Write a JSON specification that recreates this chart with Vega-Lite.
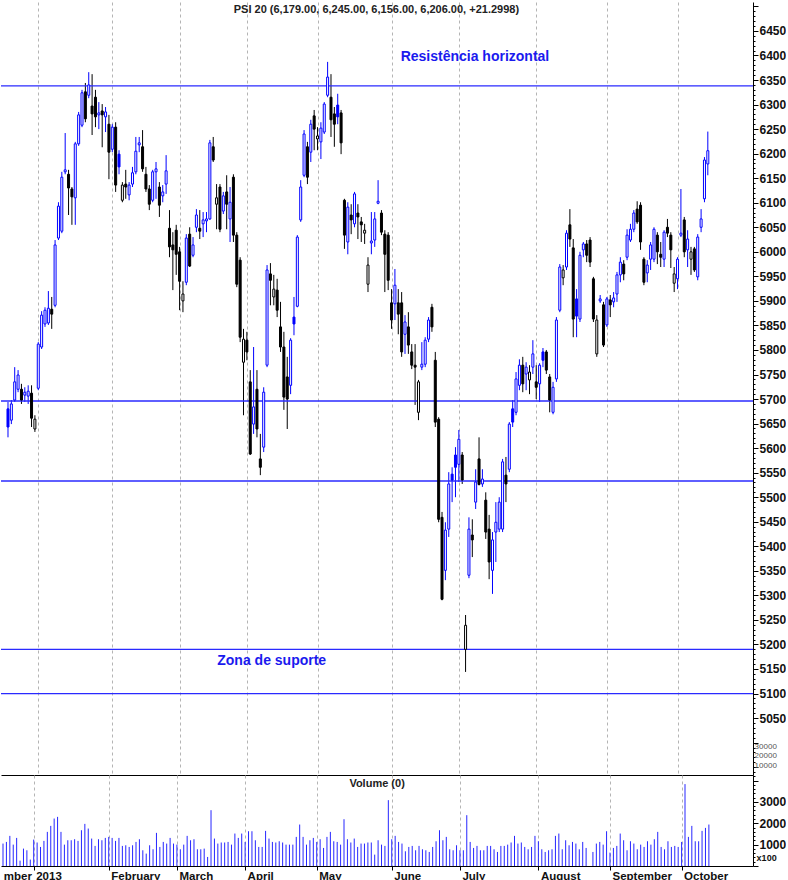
{
  "$schema": "https://vega.github.io/schema/vega-lite/v6.json",
  "padding": 0,
  "spacing": 0,
  "bounds": "flush",
  "background": "#ffffff",
  "config": {
    "view": {"stroke": null},
    "font": "Liberation Sans",
    "axis": {"labelFont": "Liberation Sans", "domainColor": "#000000", "tickColor": "#000000"}
  },
  "resolve": {"scale": {"x": "independent", "y": "independent"}},
  "datasets": {
    "lines": [{"p": 6338}, {"p": 5696}, {"p": 5533}, {"p": 5190}, {"p": 5100}],
    "notes": [{"i": 116.7, "p": 6397, "t": "Resistência horizontal"}, {"i": 62.2, "p": 5166, "t": "Zona de suporte"}],
    "heading": [{"i": 109.5, "p": 6493, "t": "PSI 20 (6,179.00, 6,245.00, 6,156.00, 6,206.00, +21.2998)"}],
    "overlay": [{"i": 221.9, "p": 4992, "t": "30000"}, {"i": 221.9, "p": 4972, "t": "20000"}, {"i": 221.9, "p": 4952, "t": "10000"}],
    "volnote": [{"i": 109.7, "v": 3850, "t": "Volume (0)"}],
    "volunit": [{"i": 221.0, "v": 380, "t": "x100"}],
    "ohlc": [
      {"i":0,"o":5680,"h":5694,"l":5622,"c":5643,"v":1050},
      {"i":1,"o":5657,"h":5698,"l":5649,"c":5690,"v":1127},
      {"i":2,"o":5698,"h":5765,"l":5694,"c":5735,"v":1410},
      {"i":3,"o":5720,"h":5759,"l":5714,"c":5749,"v":1000},
      {"i":4,"o":5720,"h":5731,"l":5690,"c":5698,"v":1315},
      {"i":5,"o":5708,"h":5724,"l":5694,"c":5714,"v":250},
      {"i":6,"o":5706,"h":5728,"l":5690,"c":5716,"v":814},
      {"i":7,"o":5712,"h":5728,"l":5643,"c":5661,"v":736},
      {"i":8,"o":5639,"h":5667,"l":5633,"c":5659,"v":300},
      {"i":9,"o":5722,"h":5816,"l":5718,"c":5812,"v":1237},
      {"i":10,"o":5806,"h":5879,"l":5802,"c":5871,"v":1100},
      {"i":11,"o":5853,"h":5887,"l":5847,"c":5881,"v":892},
      {"i":12,"o":5855,"h":5920,"l":5851,"c":5885,"v":1175},
      {"i":13,"o":5883,"h":5908,"l":5843,"c":5873,"v":1597},
      {"i":14,"o":5891,"h":6024,"l":5887,"c":6014,"v":1878},
      {"i":15,"o":6028,"h":6101,"l":6024,"c":6093,"v":2222},
      {"i":16,"o":6042,"h":6163,"l":6038,"c":6152,"v":2300},
      {"i":17,"o":6163,"h":6242,"l":6158,"c":6167,"v":1597},
      {"i":18,"o":6158,"h":6167,"l":6075,"c":6130,"v":1000},
      {"i":19,"o":6128,"h":6132,"l":6055,"c":6112,"v":1205},
      {"i":20,"o":6110,"h":6224,"l":6055,"c":6220,"v":1205},
      {"i":21,"o":6220,"h":6285,"l":6216,"c":6279,"v":1253},
      {"i":22,"o":6258,"h":6330,"l":6254,"c":6324,"v":1175},
      {"i":23,"o":6326,"h":6344,"l":6264,"c":6271,"v":1675},
      {"i":24,"o":6319,"h":6366,"l":6313,"c":6340,"v":1972},
      {"i":25,"o":6297,"h":6362,"l":6238,"c":6281,"v":1753},
      {"i":26,"o":6315,"h":6330,"l":6254,"c":6275,"v":1284},
      {"i":27,"o":6279,"h":6305,"l":6250,"c":6283,"v":940},
      {"i":28,"o":6287,"h":6301,"l":6213,"c":6279,"v":1253},
      {"i":29,"o":6275,"h":6295,"l":6244,"c":6285,"v":1205},
      {"i":30,"o":6260,"h":6279,"l":6148,"c":6203,"v":1315},
      {"i":31,"o":6209,"h":6260,"l":6203,"c":6254,"v":1362},
      {"i":32,"o":6254,"h":6264,"l":6122,"c":6136,"v":1315},
      {"i":33,"o":6199,"h":6207,"l":6158,"c":6173,"v":1175},
      {"i":34,"o":6105,"h":6142,"l":6101,"c":6136,"v":1315},
      {"i":35,"o":6138,"h":6167,"l":6108,"c":6132,"v":940},
      {"i":36,"o":6116,"h":6142,"l":6105,"c":6136,"v":970},
      {"i":37,"o":6138,"h":6173,"l":6132,"c":6161,"v":892},
      {"i":38,"o":6163,"h":6234,"l":6158,"c":6205,"v":970},
      {"i":39,"o":6218,"h":6234,"l":6203,"c":6222,"v":1127},
      {"i":40,"o":6214,"h":6248,"l":6163,"c":6169,"v":1253},
      {"i":41,"o":6158,"h":6173,"l":6122,"c":6128,"v":736},
      {"i":42,"o":6128,"h":6136,"l":6085,"c":6097,"v":580},
      {"i":43,"o":6105,"h":6167,"l":6101,"c":6163,"v":970},
      {"i":44,"o":6163,"h":6183,"l":6108,"c":6169,"v":783},
      {"i":45,"o":6132,"h":6142,"l":6071,"c":6095,"v":1550},
      {"i":46,"o":6114,"h":6136,"l":6101,"c":6122,"v":892},
      {"i":47,"o":6138,"h":6197,"l":6118,"c":6165,"v":1127},
      {"i":48,"o":6048,"h":6085,"l":5989,"c":6010,"v":1050},
      {"i":49,"o":6014,"h":6040,"l":5922,"c":6004,"v":1315},
      {"i":50,"o":6044,"h":6055,"l":5953,"c":5995,"v":1050},
      {"i":51,"o":6000,"h":6010,"l":5881,"c":5940,"v":1000},
      {"i":52,"o":5900,"h":5940,"l":5877,"c":5914,"v":783},
      {"i":53,"o":5938,"h":6036,"l":5932,"c":6028,"v":1000},
      {"i":54,"o":6036,"h":6050,"l":5969,"c":5971,"v":1410},
      {"i":55,"o":5993,"h":6030,"l":5989,"c":6014,"v":1205},
      {"i":56,"o":6050,"h":6087,"l":6040,"c":6075,"v":1253},
      {"i":57,"o":6048,"h":6085,"l":6026,"c":6042,"v":783},
      {"i":58,"o":6057,"h":6081,"l":6030,"c":6065,"v":783},
      {"i":59,"o":6063,"h":6081,"l":6040,"c":6067,"v":814},
      {"i":60,"o":6067,"h":6228,"l":6065,"c":6222,"v":423},
      {"i":61,"o":6214,"h":6234,"l":6183,"c":6187,"v":2613},
      {"i":62,"o":6097,"h":6138,"l":6046,"c":6110,"v":1284},
      {"i":63,"o":6132,"h":6138,"l":6040,"c":6046,"v":1050},
      {"i":64,"o":6083,"h":6122,"l":6077,"c":6114,"v":1100},
      {"i":65,"o":6122,"h":6156,"l":6046,"c":6097,"v":1100},
      {"i":66,"o":6067,"h":6132,"l":6020,"c":6101,"v":1127},
      {"i":67,"o":6152,"h":6158,"l":6020,"c":6034,"v":1000},
      {"i":68,"o":6034,"h":6040,"l":5928,"c":5934,"v":1519},
      {"i":69,"o":5983,"h":5989,"l":5816,"c":5826,"v":1315},
      {"i":70,"o":5775,"h":5843,"l":5667,"c":5822,"v":1519},
      {"i":71,"o":5820,"h":5837,"l":5779,"c":5796,"v":1127},
      {"i":72,"o":5735,"h":5759,"l":5586,"c":5588,"v":1628},
      {"i":73,"o":5649,"h":5806,"l":5629,"c":5684,"v":1628},
      {"i":74,"o":5720,"h":5759,"l":5622,"c":5639,"v":1205},
      {"i":75,"o":5578,"h":5629,"l":5545,"c":5561,"v":892},
      {"i":76,"o":5602,"h":5724,"l":5592,"c":5714,"v":892},
      {"i":77,"o":5769,"h":5973,"l":5765,"c":5963,"v":1644},
      {"i":78,"o":5955,"h":5977,"l":5891,"c":5942,"v":1284},
      {"i":79,"o":5908,"h":5953,"l":5891,"c":5924,"v":1127},
      {"i":80,"o":5922,"h":5945,"l":5867,"c":5881,"v":1100},
      {"i":81,"o":5847,"h":5898,"l":5796,"c":5806,"v":1158},
      {"i":82,"o":5806,"h":5837,"l":5678,"c":5704,"v":1100},
      {"i":83,"o":5745,"h":5786,"l":5639,"c":5700,"v":1000},
      {"i":84,"o":5728,"h":5824,"l":5710,"c":5820,"v":1000},
      {"i":85,"o":5867,"h":5908,"l":5830,"c":5853,"v":1000},
      {"i":86,"o":5889,"h":6034,"l":5887,"c":6030,"v":1362},
      {"i":87,"o":6065,"h":6146,"l":6061,"c":6132,"v":1941},
      {"i":88,"o":6156,"h":6248,"l":6152,"c":6240,"v":1362},
      {"i":89,"o":6214,"h":6224,"l":6138,"c":6152,"v":1000},
      {"i":90,"o":6203,"h":6269,"l":6183,"c":6260,"v":1205},
      {"i":91,"o":6277,"h":6289,"l":6207,"c":6250,"v":1315},
      {"i":92,"o":6230,"h":6254,"l":6207,"c":6236,"v":1127},
      {"i":93,"o":6224,"h":6264,"l":6189,"c":6252,"v":1253},
      {"i":94,"o":6244,"h":6305,"l":6240,"c":6301,"v":845},
      {"i":95,"o":6319,"h":6387,"l":6315,"c":6356,"v":1362},
      {"i":96,"o":6315,"h":6362,"l":6234,"c":6269,"v":1597},
      {"i":97,"o":6281,"h":6295,"l":6214,"c":6260,"v":1158},
      {"i":98,"o":6299,"h":6322,"l":6260,"c":6275,"v":1127},
      {"i":99,"o":6283,"h":6289,"l":6199,"c":6222,"v":1000},
      {"i":100,"o":6105,"h":6108,"l":6006,"c":6034,"v":2190},
      {"i":101,"o":6020,"h":6101,"l":5995,"c":6091,"v":1253},
      {"i":102,"o":6075,"h":6097,"l":6036,"c":6065,"v":1100},
      {"i":103,"o":6057,"h":6122,"l":6050,"c":6118,"v":1284},
      {"i":104,"o":6079,"h":6097,"l":6026,"c":6071,"v":892},
      {"i":105,"o":6061,"h":6071,"l":6020,"c":6055,"v":1050},
      {"i":106,"o":6038,"h":6057,"l":6016,"c":6044,"v":1050},
      {"i":107,"o":5934,"h":5989,"l":5918,"c":5973,"v":1100},
      {"i":108,"o":6018,"h":6081,"l":5995,"c":6022,"v":1100},
      {"i":109,"o":6024,"h":6081,"l":6010,"c":6067,"v":532},
      {"i":110,"o":6099,"h":6146,"l":6097,"c":6103,"v":1205},
      {"i":111,"o":6079,"h":6085,"l":6034,"c":6040,"v":1000},
      {"i":112,"o":6036,"h":6044,"l":5918,"c":5995,"v":940},
      {"i":113,"o":6034,"h":6040,"l":5922,"c":5942,"v":3083},
      {"i":114,"o":5896,"h":5924,"l":5843,"c":5861,"v":1253},
      {"i":115,"o":5894,"h":5965,"l":5861,"c":5932,"v":1410},
      {"i":116,"o":5896,"h":5924,"l":5832,"c":5873,"v":1127},
      {"i":117,"o":5896,"h":5918,"l":5786,"c":5796,"v":1050},
      {"i":118,"o":5832,"h":5871,"l":5792,"c":5857,"v":689},
      {"i":119,"o":5847,"h":5877,"l":5792,"c":5810,"v":892},
      {"i":120,"o":5796,"h":5812,"l":5761,"c":5769,"v":940},
      {"i":121,"o":5769,"h":5812,"l":5688,"c":5765,"v":736},
      {"i":122,"o":5673,"h":5739,"l":5657,"c":5735,"v":940},
      {"i":123,"o":5765,"h":5816,"l":5759,"c":5771,"v":783},
      {"i":124,"o":5771,"h":5826,"l":5765,"c":5820,"v":736},
      {"i":125,"o":5822,"h":5867,"l":5816,"c":5861,"v":657},
      {"i":126,"o":5887,"h":5894,"l":5837,"c":5847,"v":892},
      {"i":127,"o":5779,"h":5796,"l":5643,"c":5653,"v":1158},
      {"i":128,"o":5659,"h":5663,"l":5449,"c":5455,"v":1675},
      {"i":129,"o":5459,"h":5470,"l":5290,"c":5292,"v":1205},
      {"i":130,"o":5351,"h":5449,"l":5331,"c":5433,"v":1362},
      {"i":131,"o":5435,"h":5551,"l":5419,"c":5527,"v":783},
      {"i":132,"o":5547,"h":5561,"l":5490,"c":5535,"v":736},
      {"i":133,"o":5586,"h":5602,"l":5500,"c":5561,"v":970},
      {"i":134,"o":5567,"h":5637,"l":5531,"c":5618,"v":736},
      {"i":135,"o":5586,"h":5592,"l":5527,"c":5535,"v":736},
      {"i":136,"o":5190,"h":5260,"l":5144,"c":5239,"v":2379},
      {"i":137,"o":5341,"h":5459,"l":5335,"c":5435,"v":1127},
      {"i":138,"o":5423,"h":5455,"l":5378,"c":5413,"v":845},
      {"i":139,"o":5490,"h":5557,"l":5476,"c":5531,"v":940},
      {"i":140,"o":5578,"h":5622,"l":5524,"c":5526,"v":736},
      {"i":141,"o":5527,"h":5557,"l":5521,"c":5537,"v":736},
      {"i":142,"o":5494,"h":5510,"l":5415,"c":5429,"v":940},
      {"i":143,"o":5435,"h":5464,"l":5333,"c":5368,"v":940},
      {"i":144,"o":5351,"h":5429,"l":5303,"c":5413,"v":783},
      {"i":145,"o":5429,"h":5490,"l":5368,"c":5449,"v":657},
      {"i":146,"o":5435,"h":5500,"l":5429,"c":5490,"v":940},
      {"i":147,"o":5435,"h":5578,"l":5429,"c":5572,"v":940},
      {"i":148,"o":5545,"h":5582,"l":5490,"c":5527,"v":1000},
      {"i":149,"o":5557,"h":5653,"l":5551,"c":5649,"v":1100},
      {"i":150,"o":5680,"h":5698,"l":5643,"c":5653,"v":1410},
      {"i":151,"o":5673,"h":5755,"l":5667,"c":5741,"v":1050},
      {"i":152,"o":5728,"h":5781,"l":5718,"c":5769,"v":1100},
      {"i":153,"o":5769,"h":5786,"l":5714,"c":5731,"v":892},
      {"i":154,"o":5751,"h":5775,"l":5718,"c":5765,"v":783},
      {"i":155,"o":5739,"h":5769,"l":5710,"c":5755,"v":892},
      {"i":156,"o":5765,"h":5820,"l":5751,"c":5792,"v":1410},
      {"i":157,"o":5735,"h":5769,"l":5700,"c":5724,"v":1158},
      {"i":158,"o":5731,"h":5773,"l":5694,"c":5769,"v":783},
      {"i":159,"o":5796,"h":5804,"l":5765,"c":5779,"v":657},
      {"i":160,"o":5796,"h":5800,"l":5751,"c":5759,"v":736},
      {"i":161,"o":5745,"h":5751,"l":5673,"c":5698,"v":783},
      {"i":162,"o":5673,"h":5735,"l":5669,"c":5724,"v":1410},
      {"i":163,"o":5741,"h":5867,"l":5735,"c":5861,"v":1519},
      {"i":164,"o":5881,"h":5975,"l":5877,"c":5969,"v":783},
      {"i":165,"o":5947,"h":5973,"l":5932,"c":5963,"v":1205},
      {"i":166,"o":5969,"h":6044,"l":5963,"c":6038,"v":970},
      {"i":167,"o":6055,"h":6087,"l":6010,"c":6026,"v":1127},
      {"i":168,"o":6008,"h":6026,"l":5826,"c":5863,"v":1050},
      {"i":169,"o":5904,"h":5924,"l":5826,"c":5869,"v":783},
      {"i":170,"o":5863,"h":6000,"l":5857,"c":5993,"v":1127},
      {"i":171,"o":6004,"h":6020,"l":5989,"c":6016,"v":845},
      {"i":172,"o":6016,"h":6024,"l":5979,"c":5993,"v":0},
      {"i":173,"o":6024,"h":6030,"l":5969,"c":5979,"v":657},
      {"i":174,"o":5945,"h":5949,"l":5857,"c":5863,"v":1050},
      {"i":175,"o":5792,"h":5871,"l":5786,"c":5861,"v":1127},
      {"i":176,"o":5900,"h":5912,"l":5896,"c":5904,"v":1000},
      {"i":177,"o":5892,"h":5898,"l":5806,"c":5810,"v":1628},
      {"i":178,"o":5851,"h":5908,"l":5847,"c":5904,"v":626},
      {"i":179,"o":5902,"h":5912,"l":5867,"c":5892,"v":845},
      {"i":180,"o":5898,"h":5918,"l":5887,"c":5906,"v":940},
      {"i":181,"o":5914,"h":5959,"l":5898,"c":5953,"v":1519},
      {"i":182,"o":5953,"h":5989,"l":5938,"c":5979,"v":1205},
      {"i":183,"o":5975,"h":5983,"l":5942,"c":5955,"v":736},
      {"i":184,"o":5989,"h":6046,"l":5983,"c":6034,"v":1158},
      {"i":185,"o":6024,"h":6057,"l":6020,"c":6046,"v":1050},
      {"i":186,"o":6046,"h":6085,"l":6040,"c":6079,"v":783},
      {"i":187,"o":6087,"h":6103,"l":6057,"c":6061,"v":1000},
      {"i":188,"o":6095,"h":6101,"l":6004,"c":6020,"v":892},
      {"i":189,"o":5985,"h":5989,"l":5932,"c":5938,"v":1158},
      {"i":190,"o":5957,"h":5983,"l":5938,"c":5973,"v":1000},
      {"i":191,"o":5985,"h":6020,"l":5963,"c":6014,"v":1253},
      {"i":192,"o":5985,"h":6050,"l":5979,"c":6046,"v":1597},
      {"i":193,"o":6034,"h":6040,"l":5975,"c":6000,"v":892},
      {"i":194,"o":5995,"h":6020,"l":5969,"c":5989,"v":783},
      {"i":195,"o":5985,"h":6044,"l":5969,"c":6040,"v":1158},
      {"i":196,"o":6050,"h":6067,"l":6030,"c":6038,"v":892},
      {"i":197,"o":6034,"h":6040,"l":5967,"c":6004,"v":940},
      {"i":198,"o":5936,"h":5969,"l":5918,"c":5955,"v":892},
      {"i":199,"o":5945,"h":5989,"l":5924,"c":5985,"v":1127},
      {"i":200,"o":6034,"h":6128,"l":6030,"c":6038,"v":3834},
      {"i":201,"o":6065,"h":6071,"l":5989,"c":6000,"v":1362},
      {"i":202,"o":6004,"h":6044,"l":5969,"c":6026,"v":1878},
      {"i":203,"o":5985,"h":6010,"l":5953,"c":6000,"v":1158},
      {"i":204,"o":6006,"h":6010,"l":5959,"c":5963,"v":1158},
      {"i":205,"o":5949,"h":6036,"l":5942,"c":6030,"v":1644},
      {"i":206,"o":6050,"h":6087,"l":6040,"c":6067,"v":1784},
      {"i":207,"o":6108,"h":6193,"l":6101,"c":6187,"v":1941},
      {"i":208,"o":6179,"h":6245,"l":6156,"c":6206,"v":0}
    ]
  },
  "vconcat": [
    {
      "width": 752,
      "height": 773,
      "layer": [
        {
          "data": {"name": "ohlc"},
          "transform": [{"window": [{"op": "lag", "field": "c", "as": "pc"}], "sort": [{"field": "i"}]}],
          "mark": {"type": "rule", "strokeWidth": 1},
          "encoding": {
            "x": {"field": "i", "type": "quantitative", "scale": {"domain": [-0.59, 219.94], "nice": false, "zero": false},
                  "axis": {"values": [9, 31, 51, 71, 92, 114, 134, 157, 178, 199], "grid": true, "gridColor": "#b4b4b4", "gridDash": [3, 3], "labels": false, "ticks": false, "domain": true, "domainColor": "#000000", "title": null, "minExtent": 0, "maxExtent": 0, "offset": 0}},
            "y": {"field": "l", "type": "quantitative", "scale": {"domain": [4934, 6509], "nice": false, "zero": false},
                  "axis": {"orient": "right", "tickCount": 158, "format": "d", "labelExpr": "datum.value % 50 === 0 && datum.value >= 5050 && datum.value <= 6450 ? datum.label : ''", "labelOverlap": false, "labelFlush": false, "tickSize": {"condition": {"test": "datum.value % 50 === 0", "value": 5}, "value": 2}, "labelPadding": 1, "grid": false, "labelFontSize": 12, "labelFontWeight": "bold", "labelColor": "#111111", "title": null}},
            "y2": {"field": "h"},
            "color": {"condition": {"test": "datum.pc == null || datum.c > datum.pc", "value": "#0000ff"}, "value": "#000000"}
          }
        },
        {
          "data": {"name": "lines"},
          "mark": {"type": "rule", "color": "#2a2aff", "strokeWidth": 1.3},
          "encoding": {"y": {"field": "p", "type": "quantitative", "scale": {"domain": [4934, 6509], "nice": false, "zero": false}, "title": null}}
        },
        {
          "data": {"name": "ohlc"},
          "transform": [{"window": [{"op": "lag", "field": "c", "as": "pc"}], "sort": [{"field": "i"}]}],
          "mark": {"type": "bar", "orient": "vertical", "size": 2, "strokeWidth": 1},
          "encoding": {
            "x": {"field": "i", "type": "quantitative", "scale": {"domain": [-0.59, 219.94], "nice": false, "zero": false}, "title": null},
            "y": {"field": "o", "type": "quantitative", "scale": {"domain": [4934, 6509], "nice": false, "zero": false}, "title": null},
            "y2": {"field": "c"},
            "stroke": {"condition": {"test": "datum.pc == null || datum.c > datum.pc", "value": "#0000ff"}, "value": "#000000"},
            "fill": {"condition": [{"test": "datum.c > datum.o", "value": "#ffffff"}, {"test": "datum.pc == null || datum.c > datum.pc", "value": "#0000ff"}], "value": "#000000"}
          }
        },
        {
          "data": {"name": "notes"},
          "mark": {"type": "text", "align": "left", "baseline": "middle", "fontSize": 14, "fontWeight": "bold", "color": "#1a1aee", "font": "Liberation Sans"},
          "encoding": {
            "x": {"field": "i", "type": "quantitative", "scale": {"domain": [-0.59, 219.94], "nice": false, "zero": false}, "title": null},
            "y": {"field": "p", "type": "quantitative", "scale": {"domain": [4934, 6509], "nice": false, "zero": false}, "title": null},
            "text": {"field": "t"}
          }
        },
        {
          "data": {"name": "heading"},
          "mark": {"type": "text", "align": "center", "baseline": "middle", "fontSize": 11, "fontWeight": "bold", "color": "#222222", "font": "Liberation Sans"},
          "encoding": {
            "x": {"field": "i", "type": "quantitative", "scale": {"domain": [-0.59, 219.94], "nice": false, "zero": false}, "title": null},
            "y": {"field": "p", "type": "quantitative", "scale": {"domain": [4934, 6509], "nice": false, "zero": false}, "title": null},
            "text": {"field": "t"}
          }
        },
        {
          "data": {"name": "overlay"},
          "mark": {"type": "text", "align": "left", "baseline": "middle", "fontSize": 8, "color": "#555555", "font": "Liberation Sans"},
          "encoding": {
            "x": {"field": "i", "type": "quantitative", "scale": {"domain": [-0.59, 219.94], "nice": false, "zero": false}, "title": null},
            "y": {"field": "p", "type": "quantitative", "scale": {"domain": [4934, 6509], "nice": false, "zero": false}, "title": null},
            "text": {"field": "t"}
          }
        }
      ]
    },
    {
      "width": 752,
      "height": 91,
      "layer": [
        {
          "data": {"name": "ohlc"},
          "mark": {"type": "rule", "color": "#2626ff", "strokeWidth": 1},
          "encoding": {
            "x": {"field": "i", "type": "quantitative", "scale": {"domain": [-0.59, 219.94], "nice": false, "zero": false},
                  "axis": {"values": [-0.5, 9, 31, 51, 71, 92, 114, 134, 157, 178, 199],
                           "labelExpr": "datum.value < 0 ? 'mber' : ['2013','February','March','April','May','June','July','August','September','October'][indexof([9,31,51,71,92,114,134,157,178,199], datum.value)]",
                           "labelAlign": "left", "labelBaseline": "top", "labelPadding": 0, "labelOffset": 2, "labelFlush": false, "labelOverlap": false,
                           "grid": true, "gridColor": "#b4b4b4", "gridDash": [3, 3],
                           "gridOpacity": {"condition": {"test": "datum.value < 0", "value": 0}, "value": 1},
                           "tickOpacity": {"condition": {"test": "datum.value < 0", "value": 0}, "value": 1},
                           "tickSize": 4, "labelFontSize": 11.5, "labelFontWeight": "bold", "labelColor": "#111111", "title": null}},
            "y": {"field": "v", "type": "quantitative", "scale": {"domain": [0, 4260], "nice": false, "zero": false},
                  "axis": {"orient": "right", "tickCount": 21, "format": "d", "labelExpr": "datum.value % 1000 === 0 && datum.value > 0 && datum.value < 4000 ? datum.label : ''", "labelOverlap": false, "labelFlush": false, "tickSize": {"condition": {"test": "datum.value % 1000 === 0", "value": 5}, "value": 2}, "labelPadding": 1, "grid": false, "labelFontSize": 12, "labelFontWeight": "bold", "labelColor": "#111111", "title": null}},
            "y2": {"datum": 0}
          }
        },
        {
          "data": {"name": "volnote"},
          "mark": {"type": "text", "align": "center", "baseline": "middle", "fontSize": 11, "fontWeight": "bold", "color": "#222222", "font": "Liberation Sans"},
          "encoding": {
            "x": {"field": "i", "type": "quantitative", "scale": {"domain": [-0.59, 219.94], "nice": false, "zero": false}, "title": null},
            "y": {"field": "v", "type": "quantitative", "scale": {"domain": [0, 4260], "nice": false, "zero": false}, "title": null},
            "text": {"field": "t"}
          }
        },
        {
          "data": {"name": "volunit"},
          "mark": {"type": "text", "align": "left", "baseline": "middle", "fontSize": 9, "fontWeight": "bold", "color": "#111111", "font": "Liberation Sans"},
          "encoding": {
            "x": {"field": "i", "type": "quantitative", "scale": {"domain": [-0.59, 219.94], "nice": false, "zero": false}, "title": null},
            "y": {"field": "v", "type": "quantitative", "scale": {"domain": [0, 4260], "nice": false, "zero": false}, "title": null},
            "text": {"field": "t"}
          }
        }
      ]
    }
  ]
}
